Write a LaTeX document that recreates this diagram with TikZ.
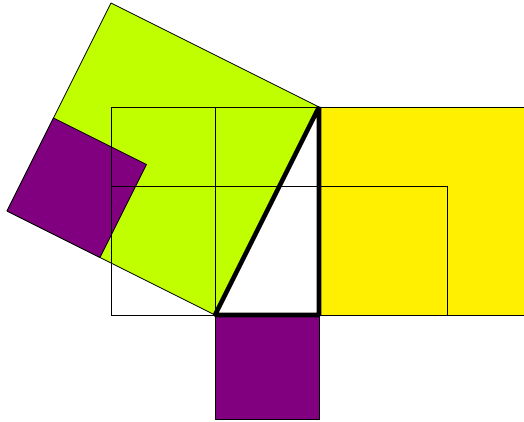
\documentclass[tikz,border=0pt]{standalone}
\usepackage{xcolor}
\definecolor{pythlime}{HTML}{BFFF00}
\definecolor{pythyellow}{HTML}{FFEF00}
\definecolor{pythpurple}{HTML}{800080}
\usepackage{tikz}
\usetikzlibrary{calc}

\begin{document}
\begin{tikzpicture}[
  x=0.75pt, y=-0.75pt,
  sq/.style={draw=black, line width=0.6pt, line join=round},
  grid/.style={draw=black, line width=0.6pt},
  tri/.style={draw=black, line width=3.4pt, line join=bevel},
]
  \useasboundingbox (0,0) rectangle (524,421);
  \clip (0,0) rectangle (524,421);

  % triangle corners
  \coordinate (A) at (215,315);
  \coordinate (B) at (319,315);
  \coordinate (C) at (319,107);

  % square on the hypotenuse
  \coordinate (h1) at (111,3);
  \coordinate (h2) at (7,211);
  \fill[pythlime, sq] (A) -- (C) -- (h1) -- (h2) -- cycle;

  % square on the long leg
  \fill[pythyellow, sq] (C) rectangle (527,315);

  % square on the short leg
  \fill[pythpurple, sq] (A) rectangle (319,419);

  % short-leg square turned onto the hypotenuse
  \coordinate (t1) at (53.5,118);
  \coordinate (t2) at (146.5,164.5);
  \coordinate (t3) at (100,257.5);
  \fill[pythpurple, sq] (h2) -- (t1) -- (t2) -- (t3) -- cycle;

  % helper lines
  \draw[grid] (111,107) rectangle (B);
  \draw[grid] (215,107) -- (A);
  \draw[grid] (111,186) -- (447,186) -- (447,315);

  % triangle
  \draw[tri] (A) -- (B) -- (C) -- cycle;
\end{tikzpicture}
\end{document}
